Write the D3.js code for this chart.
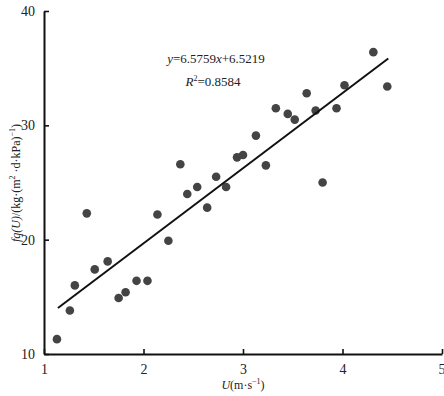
<!DOCTYPE html>
<html>
<head>
<meta charset="utf-8">
<script src="https://cdn.jsdelivr.net/npm/d3@7"></script>
<style>
  body { margin: 0; background: #fff; }
  svg { display: block; }
  text { font-family: "Liberation Serif", "Times New Roman", serif; fill: #222; }
</style>
</head>
<body>
<div id="chart"></div>
<script>
// wind speed U (m/s)
var speedU = [1.13, 1.26, 1.31, 1.43, 1.51, 1.64, 1.75, 1.82, 1.93, 2.04, 2.14, 2.25,
  2.37, 2.44, 2.54, 2.64, 2.73, 2.83, 2.94, 3.00, 3.13, 3.23, 3.33, 3.45,
  3.52, 3.64, 3.73, 3.80, 3.94, 4.02, 4.31, 4.45];
// fq(U)
var fqU = [11.3, 13.8, 16.0, 22.3, 17.4, 18.1, 14.9, 15.4, 16.4, 16.4, 22.2, 19.9,
  26.6, 24.0, 24.6, 22.8, 25.5, 24.6, 27.2, 27.4, 29.1, 26.5, 31.5, 31.0,
  30.5, 32.8, 31.3, 25.0, 31.5, 33.5, 36.4, 33.4];
var xTicks = [1, 2, 3, 4, 5];
var yTicks = [10, 20, 30, 40];
var slope = 6.5759;
var intercept = 6.5219;

var width = 444;
var height = 396;
var margin = { top: 11, right: 2, bottom: 42, left: 44 };

var svg = d3.select("#chart").append("svg")
  .attr("width", width)
  .attr("height", height);

var xScale = d3.scaleLinear().domain([1, 5]).range([margin.left, width - margin.right]);
var yScale = d3.scaleLinear().domain([10, 40]).range([height - margin.bottom, margin.top]);

// Axes, ticks point inward
var xAxis = d3.axisBottom(xScale).tickValues(xTicks).tickFormat(d3.format("d"))
  .tickSizeInner(-5).tickSizeOuter(0).tickPadding(10);
var yAxis = d3.axisLeft(yScale).tickValues(yTicks).tickFormat(d3.format("d"))
  .tickSizeInner(-5).tickSizeOuter(0).tickPadding(9);

var gx = svg.append("g")
  .attr("transform", "translate(0," + yScale(10) + ")")
  .call(xAxis);
var gy = svg.append("g")
  .attr("transform", "translate(" + xScale(1) + ",0)")
  .call(yAxis);

[gx, gy].forEach(function(g) {
  g.select(".domain").attr("stroke", "#111").attr("stroke-width", 2);
  g.selectAll(".tick line").attr("stroke", "#111").attr("stroke-width", 1.6);
  g.selectAll(".tick text")
    .attr("fill", "#222")
    .style("font-family", "'Liberation Serif', serif")
    .style("font-size", "14px");
});
// keep the last x label inside the frame
gx.selectAll(".tick text").filter(function(d) { return d === 5; })
  .attr("text-anchor", "end").attr("dx", 3);

// Points
var data = speedU.map(function(u, i) { return { u: u, f: fqU[i] }; });

svg.append("g").selectAll("circle")
  .data(data)
  .enter()
  .append("circle")
  .attr("cx", function(d) { return xScale(d.u); })
  .attr("cy", function(d) { return yScale(d.f); })
  .attr("r", 4.3)
  .attr("fill", "#444");

// Fit line
var ext = d3.extent(speedU);
var line = d3.line()
  .x(function(d) { return xScale(d); })
  .y(function(d) { return yScale(slope * d + intercept); });

svg.append("path")
  .attr("d", line([ext[0] + 0.01, ext[1] + 0.01]))
  .attr("stroke", "#111")
  .attr("stroke-width", 2)
  .attr("fill", "none");

// Equation
var eq = svg.append("text")
  .attr("x", 216)
  .attr("y", 63)
  .attr("text-anchor", "middle")
  .style("font-size", "13px");
eq.append("tspan").attr("font-style", "italic").text("y");
eq.append("tspan").text("=6.5759");
eq.append("tspan").attr("font-style", "italic").text("x");
eq.append("tspan").text("+6.5219");

var r2 = svg.append("text")
  .attr("x", 213)
  .attr("y", 86)
  .attr("text-anchor", "middle")
  .style("font-size", "13px");
r2.append("tspan").attr("font-style", "italic").text("R");
r2.append("tspan").attr("dy", -5).style("font-size", "8px").text("2");
r2.append("tspan").attr("dy", 5).text("=0.8584");

// X label
var xl = svg.append("text")
  .attr("x", 243)
  .attr("y", 389)
  .attr("text-anchor", "middle")
  .style("font-size", "12px");
xl.append("tspan").attr("font-style", "italic").text("U");
xl.append("tspan").text("(m\u00b7s");
xl.append("tspan").attr("dy", -5).style("font-size", "8px").text("\u22121");
xl.append("tspan").attr("dy", 5).text(")");

// Y label
var yl = svg.append("text")
  .attr("transform", "translate(20,183) rotate(-90)")
  .attr("text-anchor", "middle")
  .style("font-size", "12px");
yl.append("tspan").attr("font-style", "italic").text("fq(U)");
yl.append("tspan").text("/(kg\u00b7(m");
yl.append("tspan").attr("dy", -5).style("font-size", "8px").text("2");
yl.append("tspan").attr("dy", 5).text(" \u00b7d\u00b7kPa)");
yl.append("tspan").attr("dy", -5).style("font-size", "8px").text("\u22121");
yl.append("tspan").attr("dy", 5).text(")");
</script>
</body>
</html>
